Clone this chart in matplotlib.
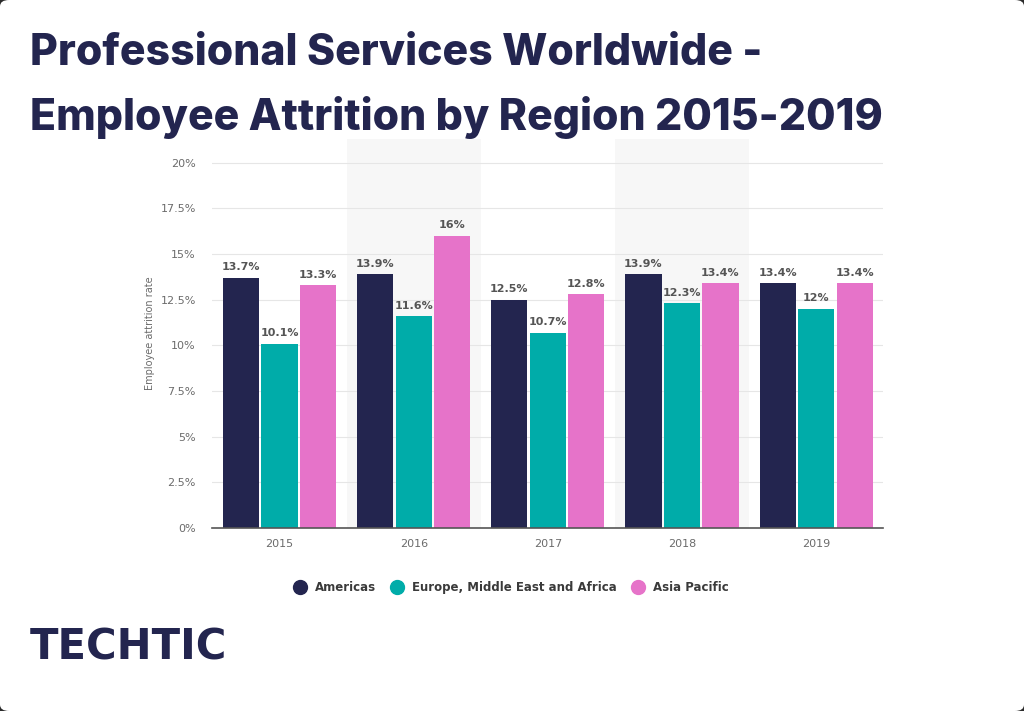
import numpy as np
import matplotlib.pyplot as plt
from matplotlib.patches import FancyBboxPatch

years = ["2015", "2016", "2017", "2018", "2019"]
americas = [13.7, 13.9, 12.5, 13.9, 13.4]
emea = [10.1, 11.6, 10.7, 12.3, 12.0]
apac = [13.3, 16.0, 12.8, 13.4, 13.4]
series_names = ["Americas", "Europe, Middle East and Africa", "Asia Pacific"]
yticks = [0, 2.5, 5, 7.5, 10, 12.5, 15, 17.5, 20]

NAVY = "#23254f"
TEAL = "#00aca9"
PINK = "#e673c9"
colors = [NAVY, TEAL, PINK]


def fmt(v):
    s = f"{v:.1f}".rstrip("0").rstrip(".")
    return s + "%"


def fit_text(fig, t, width_px):
    # shrink/grow a text so it spans width_px
    r = fig.canvas.get_renderer()
    w = t.get_window_extent(r).width
    t.set_fontsize(t.get_fontsize() * width_px / w)


def main():
    fig = plt.figure(figsize=(10.24, 7.11), dpi=100)
    fig.patch.set_facecolor("#2b2b2b")
    card = FancyBboxPatch((0, 0), 1, 1, boxstyle="round,pad=0,rounding_size=0.009",
                          transform=fig.transFigure, facecolor="white", edgecolor="none", zorder=-10)
    fig.patches.append(card)

    ax = fig.add_axes([0.2075, 0.2574, 0.655, 0.547])
    ax.set_facecolor("none")

    x = np.arange(len(years))
    offset = 0.287
    width = 0.27
    for i, (vals, col, name) in enumerate(zip([americas, emea, apac], colors, series_names)):
        bars = ax.bar(x + (i - 1) * offset, vals, width, color=col, label=name, zorder=3)
        for b, v in zip(bars, vals):
            ax.annotate(fmt(v), (b.get_x() + b.get_width() / 2, v), xytext=(0, 4),
                        textcoords="offset points", ha="center", va="bottom",
                        fontsize=8, fontweight="bold", color="#555555", zorder=4)

    # alternating column bands
    for k in range(len(years)):
        if k % 2 == 1:
            ax.axvspan(k - 0.5, k + 0.5, color="#f7f7f7", zorder=0, lw=0)

    ax.set_xlim(-0.5, len(years) - 0.5)
    ax.set_ylim(0, 21.3)
    ax.set_yticks(yticks)
    ax.set_yticklabels([fmt(t) for t in yticks])
    ax.set_xticks(x)
    ax.set_xticklabels(years)
    ax.yaxis.grid(True, color="#e6e6e6", lw=0.8, zorder=1)
    ax.tick_params(axis="both", length=0, labelsize=8, labelcolor="#6b6b6b")
    ax.tick_params(axis="y", pad=12)
    ax.tick_params(axis="x", pad=8)
    for s in ["top", "right", "left"]:
        ax.spines[s].set_visible(False)
    ax.spines["bottom"].set_color("#555555")
    ax.spines["bottom"].set_linewidth(1.2)
    ax.spines["bottom"].set_zorder(5)
    ax.set_ylabel("Employee attrition rate", fontsize=7, color="#6b6b6b", labelpad=4)

    handles = [plt.Line2D([], [], marker="o", ls="", ms=10, color=c) for c in colors]
    fig.legend(handles, series_names, loc="center", bbox_to_anchor=(0.4985, 0.174), ncol=3,
               frameon=False, handletextpad=0.57, columnspacing=1.08, handlelength=1.4,
               prop={"size": 8.5, "weight": "bold"}, labelcolor="#3a3a3a")

    t1 = fig.text(30 / 1024, 1 - 65 / 711, "Professional Services Worldwide -", fontsize=30,
                  fontweight="heavy", color=NAVY, family="Inter", va="baseline")
    t2 = fig.text(30 / 1024, 1 - 130 / 711, "Employee Attrition by Region 2015-2019", fontsize=30,
                  fontweight="heavy", color=NAVY, family="Inter", va="baseline")
    fit_text(fig, t2, 855)
    t1.set_fontsize(t2.get_fontsize())
    fig.text(30 / 1024, 1 - 659 / 711, "TECHTIC", fontsize=30, fontweight="bold", color=NAVY,
             family="DejaVu Sans", va="baseline")

    fig.savefig("out.png", dpi=100, facecolor=fig.get_facecolor())


if __name__ == "__main__":
    main()
